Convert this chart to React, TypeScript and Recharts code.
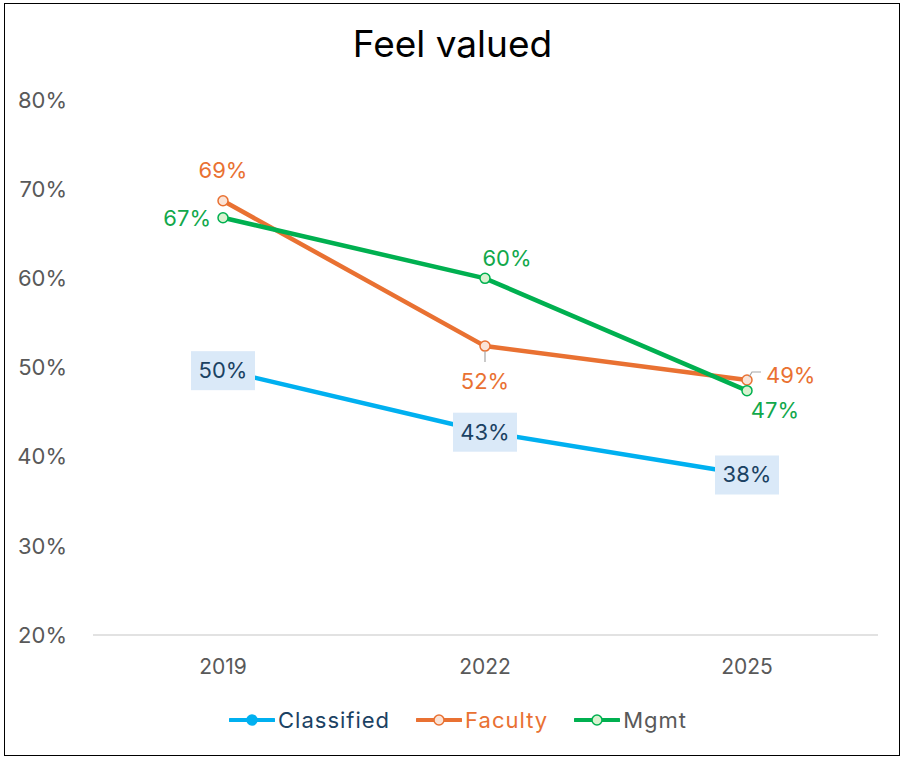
import React from "react";
import { LineChart, Line, XAxis, YAxis, Legend, LabelList } from "recharts";

const categories = ["2019", "2022", "2025"];
const classified = [49.7, 42.8, 38.0];
const faculty = [68.7, 52.4, 48.6];
const mgmt = [66.8, 60.0, 47.4];
const yTicks = [20, 30, 40, 50, 60, 70, 80];

const data = categories.map((c, i) => ({
  year: c,
  Classified: classified[i],
  Faculty: faculty[i],
  Mgmt: mgmt[i],
}));

const FONT = "Inter, 'Open Sans', sans-serif";
const C_BLUE = "#00B0F0";
const C_ORANGE = "#E97132";
const C_GREEN = "#00B050";
const C_NAVY = "#1B4263";

const series = [
  { key: "Classified", color: C_BLUE, fill: C_BLUE, text: C_NAVY },
  { key: "Faculty", color: C_ORANGE, fill: "#FBE3D6", text: C_ORANGE },
  { key: "Mgmt", color: C_GREEN, fill: "#D9F2D0", text: "#595959" },
];

const fmt = (v: number) => `${Math.round(v)}%`;

const ClassifiedLabel = (props: any) => {
  const { x, y, value } = props;
  return (
    <g>
      <rect x={x - 32} y={y - 19} width={64} height={39} fill="#DAE9F8" />
      <text x={x} y={y} dy="0.36em" textAnchor="middle" fontFamily={FONT} fontSize={22} fill={C_NAVY}>
        {fmt(value)}
      </text>
    </g>
  );
};

const facultyOffsets = [
  { dx: 0, dy: -31, anchor: "middle" },
  { dx: 0, dy: 35, anchor: "middle" },
  { dx: 19, dy: -5, anchor: "start" },
];
const FacultyLabel = (props: any) => {
  const { x, y, value, index } = props;
  const o = facultyOffsets[index];
  return (
    <g>
      {index === 1 && <line x1={x} y1={y + 5} x2={x} y2={y + 16} stroke="#A6A6A6" strokeWidth={1.2} />}
      {index === 2 && (
        <polyline points={`${x + 2},${y - 3} ${x + 5},${y - 8} ${x + 14},${y - 8}`} fill="none" stroke="#A6A6A6" strokeWidth={1.2} />
      )}
      <text x={x + o.dx} y={y + o.dy} dy="0.36em" textAnchor={o.anchor as any} fontFamily={FONT} fontSize={22} fill={C_ORANGE}>
        {fmt(value)}
      </text>
    </g>
  );
};

const mgmtOffsets = [
  { dx: -12, dy: 0, anchor: "end" },
  { dx: 22, dy: -20, anchor: "middle" },
  { dx: 28, dy: 19, anchor: "middle" },
];
const MgmtLabel = (props: any) => {
  const { x, y, value, index } = props;
  const o = mgmtOffsets[index];
  return (
    <text x={x + o.dx} y={y + o.dy} dy="0.36em" textAnchor={o.anchor as any} fontFamily={FONT} fontSize={22} fill="#12A84B">
      {fmt(value)}
    </text>
  );
};

const LegendContent = () => (
  <div style={{ height: 50, display: "flex", justifyContent: "center", alignItems: "flex-start", gap: 26, fontFamily: FONT, fontSize: 22, paddingLeft: 38 }}>
    {series.map((s) => (
      <div key={s.key} style={{ display: "flex", alignItems: "center", height: 24 }}>
        <svg width={46} height={14} style={{ marginRight: 3 }}>
          <line x1={1} y1={7} x2={45} y2={7} stroke={s.color} strokeWidth={4} strokeLinecap="round" />
          <circle cx={23} cy={7} r={5} fill={s.fill} stroke={s.color} strokeWidth={1.5} />
        </svg>
        <span style={{ color: s.text, lineHeight: "24px", letterSpacing: 1 }}>{s.key}</span>
      </div>
    ))}
  </div>
);

export default function App() {
  return (
    <div style={{ position: "absolute", left: 0, top: 0, width: 901, height: 758, background: "#fff" }}>
      <div
        style={{
          position: "absolute",
          left: 4,
          top: 3,
          width: 896,
          height: 753,
          border: "1.5px solid #000",
          boxSizing: "border-box",
        }}
      />
      <div
        style={{
          position: "absolute",
          left: 2,
          width: 901,
          top: 21,
          textAlign: "center",
          fontFamily: FONT,
          fontSize: 37,
          color: "#000",
          lineHeight: "46px",
        }}
      >
        Feel valued
      </div>
      <LineChart width={901} height={758} data={data} margin={{ top: 100, right: 23, bottom: 0, left: 0 }}>
        <XAxis
          dataKey="year"
          height={73}
          padding={{ left: 130, right: 131 }}
          tickLine={false}
          tickSize={0}
          tickMargin={24}
          axisLine={{ stroke: "#D9D9D9", strokeWidth: 1.5 }}
          tick={{ fill: "#595959", fontFamily: FONT, fontSize: 21 }}
        />
        <YAxis
          width={93}
          domain={[20, 80]}
          ticks={yTicks}
          tickFormatter={(v: number) => `${v}%`}
          axisLine={false}
          tickLine={false}
          tickSize={0}
          tickMargin={26}
          tick={{ fill: "#595959", fontFamily: FONT, fontSize: 22 }}
        />
        <Legend verticalAlign="bottom" content={<LegendContent />} />
        <Line
          dataKey="Classified"
          stroke={C_BLUE}
          strokeWidth={4.5}
          dot={{ r: 5, fill: C_BLUE, stroke: C_BLUE }}
          isAnimationActive={false}
        >
          <LabelList dataKey="Classified" content={<ClassifiedLabel />} />
        </Line>
        <Line
          dataKey="Faculty"
          stroke={C_ORANGE}
          strokeWidth={4.5}
          dot={{ r: 5, fill: "#FBE3D6", stroke: C_ORANGE, strokeWidth: 1.5 }}
          isAnimationActive={false}
        >
          <LabelList dataKey="Faculty" content={<FacultyLabel />} />
        </Line>
        <Line
          dataKey="Mgmt"
          stroke={C_GREEN}
          strokeWidth={4.5}
          dot={{ r: 5, fill: "#D9F2D0", stroke: C_GREEN, strokeWidth: 1.5 }}
          isAnimationActive={false}
        >
          <LabelList dataKey="Mgmt" content={<MgmtLabel />} />
        </Line>
      </LineChart>
    </div>
  );
}
